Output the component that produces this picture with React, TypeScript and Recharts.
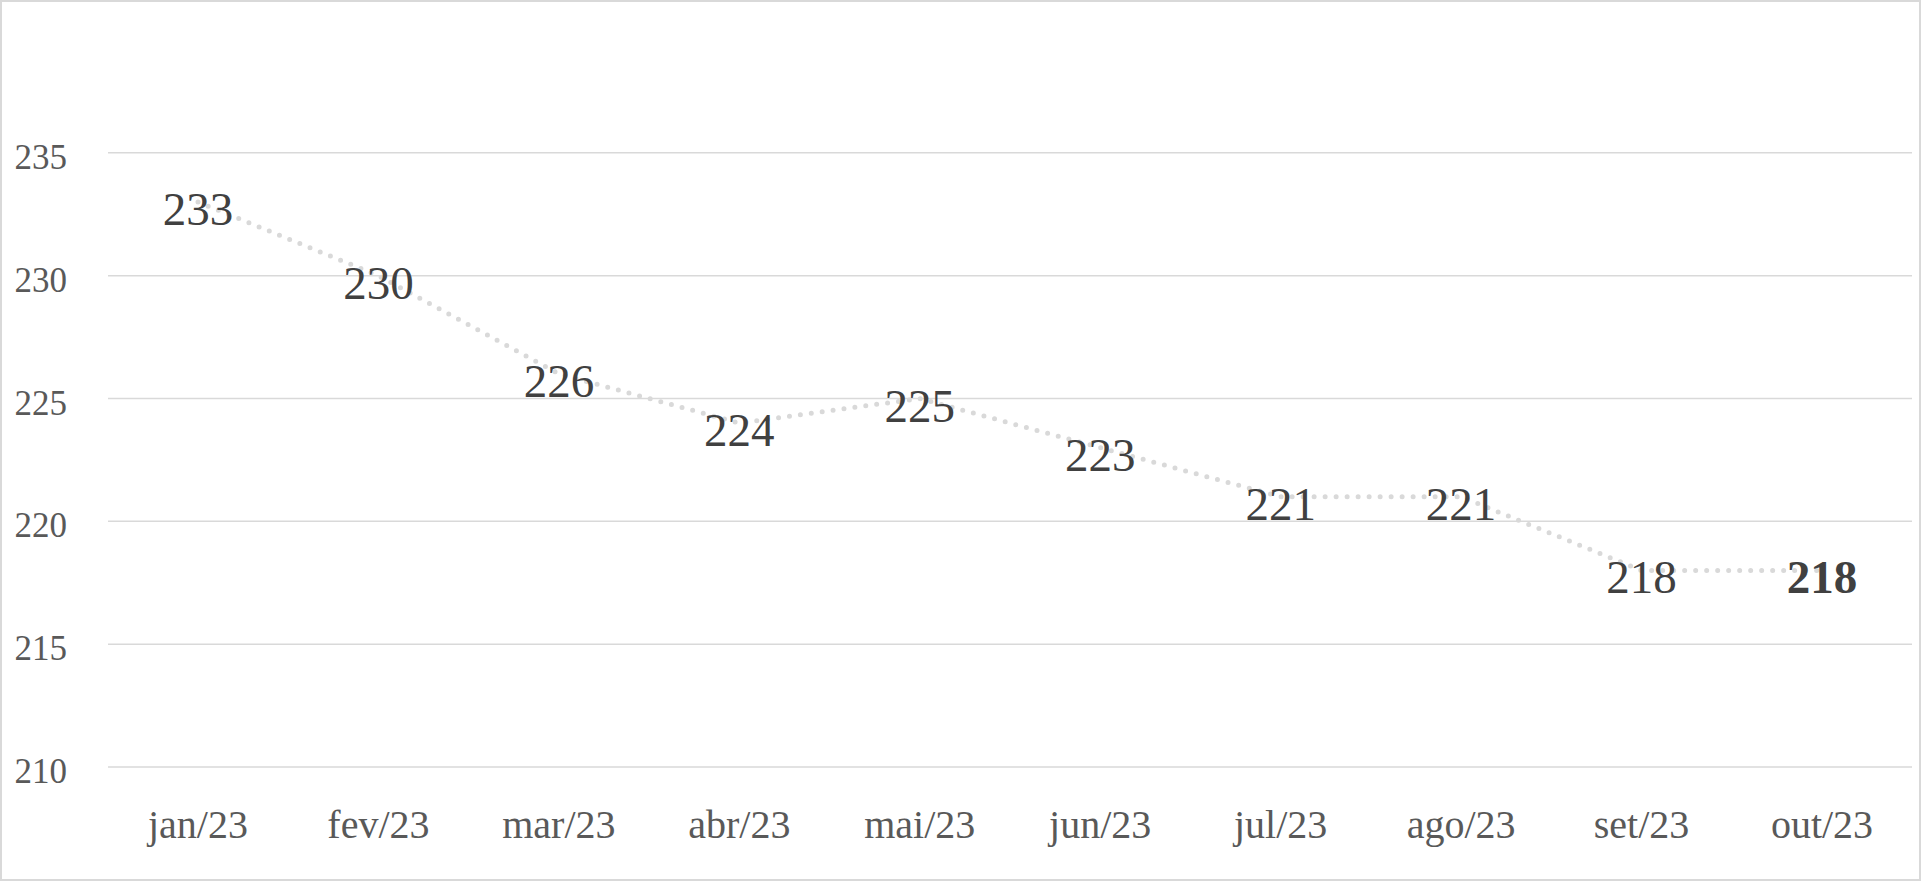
import React from 'react';
import { LineChart, Line, XAxis, YAxis, ReferenceLine, LabelList } from 'recharts';

const months = ['jan/23', 'fev/23', 'mar/23', 'abr/23', 'mai/23', 'jun/23', 'jul/23', 'ago/23', 'set/23', 'out/23'];
const values = [233, 230, 226, 224, 225, 223, 221, 221, 218, 218];
const yTicks = [210, 215, 220, 225, 230, 235];
const yDomain = [210, 240];

const data = months.map((m, i) => ({ month: m, value: values[i] }));

const FONT = '"Liberation Serif", "DejaVu Serif", serif';

const YTick = (props: any) => {
  const { y, payload } = props;
  return (
    <text x={67} y={y + 16} textAnchor="end" fill="#595959" fontSize={35} fontFamily={FONT}>
      {payload.value}
    </text>
  );
};

const XTick = (props: any) => {
  const { x, payload } = props;
  return (
    <text x={x} y={838} textAnchor="middle" fill="#595959" fontSize={40} fontFamily={FONT}>
      {payload.value}
    </text>
  );
};

const ValueLabel = (props: any) => {
  const { x, y, value, index } = props;
  const last = index === values.length - 1;
  return (
    <text
      x={x}
      y={y + 23}
      textAnchor="middle"
      fill="#404040"
      fontSize={47}
      fontWeight={last ? 700 : 400}
      fontFamily={FONT}
    >
      {value}
    </text>
  );
};

export default function App() {
  return (
    <div style={{ position: 'absolute', left: 0, top: 0, width: 1921, height: 881, background: '#fff' }}>
      <div style={{ position: 'absolute', left: 0, top: 0, width: 1917, height: 877, border: '2px solid #d9d9d9' }} />
      <div style={{ position: 'absolute', left: 0, top: 0 }}>
        <LineChart width={1921} height={881} data={data} margin={{ top: 30, right: 9, bottom: 0, left: 0 }}>
          <XAxis
            dataKey="month"
            height={114}
            axisLine={false}
            tickLine={false}
            interval={0}
            padding={{ left: 90, right: 90 }}
            tick={<XTick />}
          />
          <YAxis
            type="number"
            domain={yDomain}
            ticks={yTicks}
            width={108}
            axisLine={false}
            tickLine={false}
            tick={<YTick />}
          />
          {yTicks.map((t) => (
            <ReferenceLine key={t} y={t} stroke="#d9d9d9" strokeWidth={1.5} ifOverflow="visible" />
          ))}
          <Line
            type="linear"
            dataKey="value"
            stroke="#d9d9d9"
            strokeWidth={5}
            strokeDasharray="0 11"
            strokeLinecap="round"
            dot={false}
            isAnimationActive={false}
          >
            <LabelList dataKey="value" content={<ValueLabel />} />
          </Line>
        </LineChart>
      </div>
    </div>
  );
}
